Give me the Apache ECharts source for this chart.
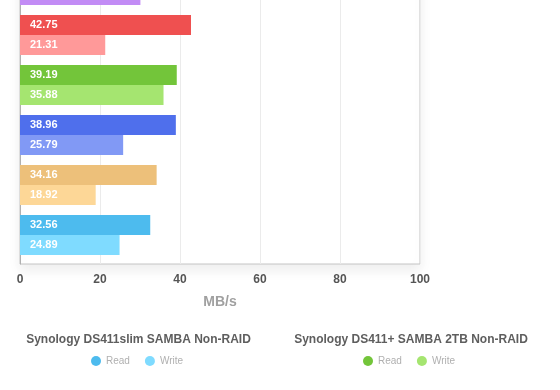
<!DOCTYPE html>
<html>
<head>
<meta charset="utf-8">
<script src="https://cdn.jsdelivr.net/npm/echarts@6/dist/echarts.min.js"></script>
<style>html,body{margin:0;padding:0;background:#fff;}#c{width:560px;height:390px;}</style>
</head>
<body>
<div id="c"></div>
<script>
// Devices, top to bottom
const devices = ['Device A', 'Device B', 'Synology DS411+ SAMBA 2TB Non-RAID', 'Device D', 'Device E', 'Synology DS411slim SAMBA Non-RAID'];
const readValues = [33.0, 42.75, 39.19, 38.96, 34.16, 32.56];
const writeValues = [30.1, 21.31, 35.88, 25.79, 18.92, 24.89];
const readColors = ['#b57ef0', '#ef5050', '#73c53a', '#4f6fec', '#edc07a', '#4dbbee'];
const writeColors = ['#c28cf5', '#ff9999', '#a5e570', '#8199f5', '#fdd797', '#7fdbff'];
const xTicks = [0, 20, 40, 60, 80, 100];
const legendGroups = ['Synology DS411slim SAMBA Non-RAID', 'Synology DS411+ SAMBA 2TB Non-RAID'];

const SEP = ' \u00b7 ';
const series = [];
devices.forEach((d, i) => {
  const lbl = {show: true, position: 'insideLeft', distance: 10, color: '#fff', fontSize: 11, fontWeight: 'bold', fontFamily: 'Liberation Sans, Arial, sans-serif'};
  series.push({
    name: d + SEP + 'Read', type: 'bar', stack: 'read', barWidth: 20, barGap: 0,
    itemStyle: {color: readColors[i]}, label: lbl,
    data: devices.map((_, j) => j === i ? readValues[i] : '-')
  });
  series.push({
    name: d + SEP + 'Write', type: 'bar', stack: 'write', barWidth: 20, barGap: 0,
    itemStyle: {color: writeColors[i]}, label: lbl,
    data: devices.map((_, j) => j === i ? writeValues[i] : '-')
  });
});
series.push({name: 'pad', type: 'bar', stack: 'pad', barWidth: 8, barGap: 0, data: devices.map(() => '-'), silent: true});

const legendLeft = [91, 363];
const titleCenter = [138.5, 411];
const font = 'Liberation Sans, Arial, sans-serif';

const chart = echarts.init(document.getElementById('c'), null, {renderer: 'canvas'});
chart.setOption({
  animation: false,
  backgroundColor: '#fff',
  grid: {
    left: 20, right: 140, top: -36, bottom: 126,
    containLabel: false, outerBoundsMode: 'none',
    show: true, backgroundColor: '#fff', borderColor: '#c4c4c4', borderWidth: 1,
    shadowColor: 'rgba(0,0,0,0.07)', shadowBlur: 12, shadowOffsetY: 6
  },
  xAxis: {
    type: 'value', min: 0, max: 100, interval: 20,
    axisLine: {show: false}, axisTick: {show: false},
    splitLine: {lineStyle: {color: '#ebebeb'}},
    axisLabel: {color: '#555', fontSize: 12, fontWeight: 'bold', margin: 10, fontFamily: font,
      formatter: v => xTicks.includes(v) ? String(v) : ''},
    name: 'MB/s', nameLocation: 'middle', nameGap: 31,
    nameTextStyle: {color: '#a0a0a0', fontSize: 14, fontWeight: 'bold', fontFamily: font}
  },
  yAxis: {
    type: 'category', data: devices, inverse: true,
    axisLine: {show: true, lineStyle: {color: '#b0b0b0'}},
    axisTick: {show: false}, axisLabel: {show: false}, splitLine: {show: false}
  },
  title: legendGroups.map((g, k) => ({
    text: g, left: titleCenter[k], top: 334, textAlign: 'center', padding: 0,
    textStyle: {color: '#5e5e5e', fontSize: 12, fontWeight: 'bold', fontFamily: font}
  })),
  legend: legendGroups.map((g, k) => ({
    data: [g + SEP + 'Read', g + SEP + 'Write'],
    left: legendLeft[k], top: 356, padding: 0,
    icon: 'circle', itemWidth: 10, itemHeight: 10, itemGap: 15,
    formatter: n => n.split(SEP).pop(),
    textStyle: {color: '#b0b0b0', fontSize: 10, fontFamily: font},
    selectedMode: false
  })),
  series: series
});
</script>
</body>
</html>
